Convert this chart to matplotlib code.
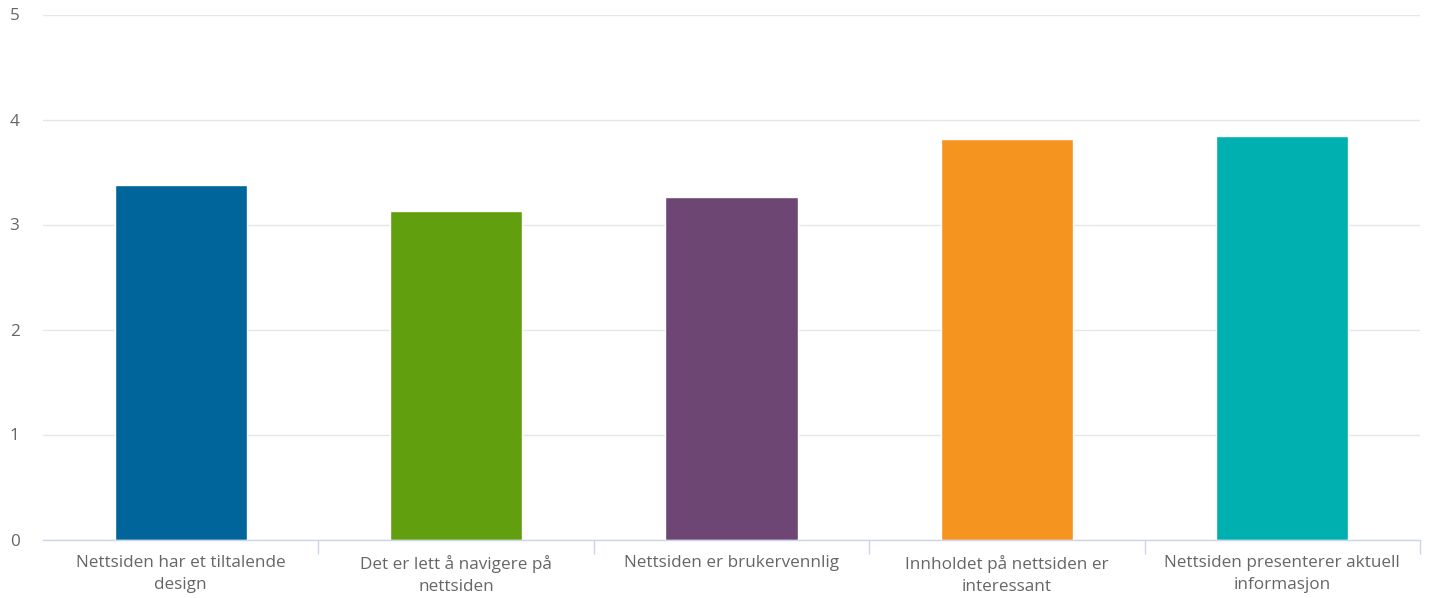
import matplotlib.pyplot as plt
import numpy as np

categories = [
    "Nettsiden har et tiltalende\ndesign",
    "Det er lett å navigere på\nnettsiden",
    "Nettsiden er brukervennlig",
    "Innholdet på nettsiden er\ninteressant",
    "Nettsiden presenterer aktuell\ninformasjon",
]
values = [3.38, 3.13, 3.26, 3.81, 3.84]
colors = ["#00659a", "#629f0e", "#6d4673", "#f5951f", "#00afaf"]
y_ticks = [0, 1, 2, 3, 4, 5]

plt.rcParams["font.family"] = ["Open Sans", "DejaVu Sans"]

W, H = 1431, 598
fig = plt.figure(figsize=(W / 100, H / 100), dpi=100)
ax = fig.add_axes([43 / W, 58.5 / H, (1420 - 43) / W, (539.5 - 14.5) / H])

x = np.arange(len(categories))
ax.bar(x, values, width=0.48, color=colors, edgecolor="white", linewidth=1, zorder=3)

ax.set_xlim(-0.5, len(categories) - 0.5)
ax.set_ylim(0, 5)
ax.set_yticks(y_ticks)
ax.set_yticklabels([str(t) for t in y_ticks])
ax.grid(axis="y", color="#e6e6e6", linewidth=1, zorder=0)

for s in ["top", "right", "left"]:
    ax.spines[s].set_visible(False)
ax.spines["bottom"].set_color("#ccd6eb")
ax.spines["bottom"].set_linewidth(1)
ax.spines["bottom"].set_zorder(4)

# category labels without ticks, boundary ticks as minor
ax.set_xticks(x)
ax.set_xticklabels(categories, fontsize=12.3, color="#666666",
                   linespacing=1.45, multialignment="center")
ax.tick_params(axis="x", which="major", length=0, pad=11.5)
ax.set_xticks(np.arange(0.5, len(categories), 1.0), minor=True)
ax.tick_params(axis="x", which="minor", length=10, width=1, color="#ccd6eb")
ax.tick_params(axis="y", length=0, pad=17, labelsize=12.3, labelcolor="#666666")

fig.savefig("out.png", dpi=100, facecolor="white")
